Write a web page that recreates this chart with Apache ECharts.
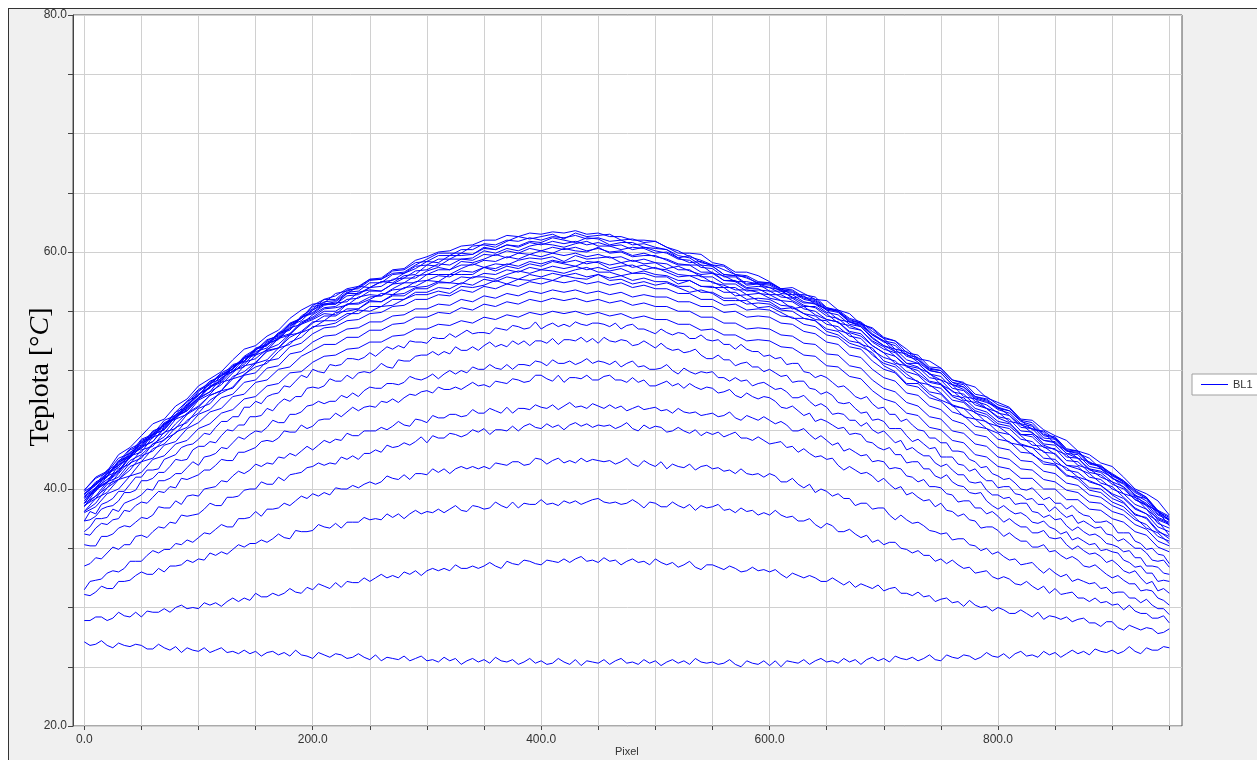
<!DOCTYPE html>
<html>
<head>
<meta charset="utf-8">
<script src="https://cdn.jsdelivr.net/npm/echarts@6/dist/echarts.min.js"></script>
<style>
html,body{margin:0;padding:0;background:#fff;width:1257px;height:760px;overflow:hidden;}
#frame{position:absolute;left:8px;top:8px;width:1300px;height:800px;background:#f0f0f0;border-left:1px solid #333;border-top:1px solid #333;}
#chart{position:absolute;left:0;top:0;width:1257px;height:760px;}
</style>
</head>
<body>
<div id="frame"></div>
<div id="chart"></div>
<script>
// Pixel positions (x) of the samples: fine grid for the lower curves, coarser for the rest
const PIXELS5 = [0,5,10,15,20,25,30,35,40,45,50,55,60,65,70,75,80,85,90,95,
100,105,110,115,120,125,130,135,140,145,150,155,160,165,170,175,180,185,190,195,
200,205,210,215,220,225,230,235,240,245,250,255,260,265,270,275,280,285,290,295,
300,305,310,315,320,325,330,335,340,345,350,355,360,365,370,375,380,385,390,395,
400,405,410,415,420,425,430,435,440,445,450,455,460,465,470,475,480,485,490,495,
500,505,510,515,520,525,530,535,540,545,550,555,560,565,570,575,580,585,590,595,
600,605,610,615,620,625,630,635,640,645,650,655,660,665,670,675,680,685,690,695,
700,705,710,715,720,725,730,735,740,745,750,755,760,765,770,775,780,785,790,795,
800,805,810,815,820,825,830,835,840,845,850,855,860,865,870,875,880,885,890,895,
900,905,910,915,920,925,930,935,940,945,950];
const PIXELS = [0,10,20,30,40,50,60,70,80,90,100,110,120,130,140,150,160,170,180,190,200,210,220,230,240,250,260,270,280,290,300,310,320,330,340,350,360,370,380,390,400,410,420,430,440,450,460,470,480,490,500,510,520,530,540,550,560,570,580,590,600,610,620,630,640,650,660,670,680,690,700,710,720,730,740,750,760,770,780,790,800,810,820,830,840,850,860,870,880,890,900,910,920,930,940,950];
const X_LABELS = [0,200,400,600,800];
const Y_LABELS = [20,40,60,80];
const SERIES_NAME = 'BL1';

// lower curves (5 px sampling)
const t01 = [27.1,26.8,26.9,27.2,26.8,26.6,27.0,26.8,26.7,26.9,26.8,26.5,26.5,26.9,26.6,26.4,26.7,26.2,26.6,26.4,
26.3,26.6,26.2,26.4,26.6,26.2,26.3,26.1,26.4,26.1,26.3,25.9,26.2,26.3,26.0,26.2,25.9,26.4,26.0,25.9,
25.7,26.2,26.0,25.8,26.1,26.0,25.7,25.8,26.1,25.8,25.6,26.0,25.5,25.8,25.7,25.6,25.9,25.5,25.7,25.9,
25.5,25.6,25.4,25.8,25.5,25.7,25.2,25.5,25.7,25.4,25.6,25.3,25.8,25.5,25.4,25.6,25.2,25.4,25.7,25.3,
25.5,25.2,25.3,25.7,25.4,25.2,25.6,25.1,25.5,25.4,25.3,25.6,25.2,25.5,25.7,25.3,25.4,25.2,25.6,25.3,
25.5,25.1,25.4,25.6,25.3,25.5,25.2,25.7,25.4,25.3,25.4,25.2,25.3,25.6,25.2,25.0,25.5,25.3,25.2,25.5,
25.1,25.5,25.0,25.5,25.4,25.3,25.6,25.2,25.5,25.7,25.4,25.5,25.3,25.7,25.4,25.6,25.2,25.6,25.8,25.5,
25.7,25.4,25.9,25.7,25.6,25.8,25.5,25.7,26.0,25.6,25.5,26.0,25.8,25.7,26.0,25.9,25.6,25.8,26.2,25.9,
25.8,26.1,25.7,26.1,26.3,25.9,26.0,25.8,26.3,26.0,26.2,25.8,26.1,26.4,26.1,26.3,26.0,26.5,26.3,26.2,
26.4,26.1,26.3,26.7,26.3,26.1,26.6,26.4,26.4,26.7,26.6];
const t02 = [28.9,28.9,29.2,29.2,28.9,29.1,29.6,29.3,29.2,29.6,29.2,29.7,29.6,29.6,29.9,29.6,30.0,30.2,29.9,30.0,
29.9,30.4,30.2,30.4,30.1,30.5,30.8,30.5,30.8,30.6,31.2,30.9,30.9,31.2,31.0,31.2,31.6,31.3,31.2,31.7,
31.5,32.0,31.8,31.6,32.1,31.7,32.2,32.1,32.1,32.5,32.2,32.5,32.8,32.5,32.7,32.5,33.0,32.8,33.1,32.7,
33.1,33.3,33.1,33.3,33.1,33.6,33.3,33.3,33.5,33.3,33.5,33.8,33.5,33.3,33.9,33.7,33.6,34.0,33.9,33.7,
33.6,34.0,33.9,33.8,34.1,33.8,34.1,34.3,33.9,34.0,33.8,34.2,33.9,34.0,33.6,33.9,34.1,33.8,33.9,33.6,
34.1,33.8,33.6,33.8,33.4,33.6,33.9,33.4,33.2,33.6,33.6,33.4,33.2,33.5,33.3,33.0,33.1,33.4,33.1,33.2,
33.0,33.2,32.8,32.5,32.9,32.7,32.5,32.7,32.5,32.2,32.2,32.5,32.2,31.9,32.2,31.7,32.0,31.8,31.6,31.9,
31.4,31.6,31.7,31.2,31.2,31.0,31.3,30.9,31.0,30.5,30.7,30.8,30.4,30.5,30.1,30.6,30.2,30.0,30.1,29.7,
30.0,29.8,29.5,29.5,29.8,29.5,29.2,29.6,29.0,29.3,29.2,29.0,29.2,28.8,29.0,29.1,28.7,28.7,28.4,28.8,
28.8,28.3,28.1,28.5,28.3,28.1,28.3,28.2,27.8,27.9,28.2];
const t03 = [31.1,31.0,31.3,31.8,31.6,31.6,32.2,32.2,32.3,32.7,33.0,32.8,32.8,33.3,33.0,33.5,33.5,33.6,34.0,33.8,
34.1,34.0,34.6,34.4,34.7,34.5,34.9,35.3,35.1,35.4,35.4,35.7,35.5,35.8,36.2,35.9,35.8,36.5,36.4,36.4,
36.5,37.0,36.8,36.7,37.1,36.7,37.2,37.2,37.2,37.6,37.4,37.5,37.4,37.9,37.6,37.9,37.5,37.9,38.2,37.9,
38.1,38.0,38.3,38.0,38.3,38.6,38.2,38.1,38.6,38.5,38.3,38.4,38.9,38.6,38.4,38.9,38.4,38.8,38.7,38.7,
39.1,38.7,38.8,38.6,39.0,38.8,39.0,38.7,38.9,39.1,39.2,38.9,38.8,38.9,38.7,38.8,39.1,38.8,38.4,38.9,
38.8,38.5,38.5,38.9,38.6,38.4,38.7,38.2,38.6,38.4,38.5,38.7,38.2,38.3,38.0,38.4,38.1,38.2,37.8,38.0,
37.8,38.2,37.8,37.6,37.7,37.3,37.3,37.5,37.0,36.7,37.1,36.9,36.4,36.4,36.6,36.2,35.9,36.1,35.5,35.7,
35.3,35.5,35.5,35.0,34.9,34.6,34.8,34.4,34.4,33.9,34.1,33.7,34.0,33.6,33.3,33.4,32.9,33.0,33.1,32.6,
32.4,32.6,32.4,32.0,31.9,32.2,31.8,31.5,31.8,31.2,31.6,31.1,31.2,31.3,30.8,30.8,30.5,30.8,30.4,30.5,
30.2,30.3,29.8,30.2,29.7,29.5,29.5,29.1,29.1,29.3,28.7];
const t04 = [31.5,32.2,32.3,32.4,32.9,33.1,33.0,33.3,33.9,33.9,33.9,34.4,34.8,34.6,34.9,34.9,35.4,35.3,35.7,35.5,
35.9,36.3,36.2,36.6,37.0,36.8,36.8,37.5,37.5,37.6,38.1,37.7,38.3,38.3,38.4,38.8,38.6,39.0,39.4,39.2,
39.6,39.4,39.7,39.5,40.1,40.0,40.0,40.3,40.1,40.4,40.6,40.4,40.6,41.1,40.9,40.8,41.2,40.8,41.3,41.3,
41.2,41.7,41.4,41.7,41.3,41.7,41.9,41.7,41.9,41.7,41.9,41.7,42.2,42.1,42.0,42.3,42.3,42.0,42.1,42.6,
42.5,42.1,42.4,42.6,42.2,42.4,42.2,42.6,42.3,42.5,42.4,42.3,42.4,42.1,42.3,42.6,42.1,41.9,42.4,42.1,
41.9,42.3,41.7,42.1,41.9,41.8,42.1,41.6,41.9,42.0,41.7,41.8,41.5,41.6,41.3,41.7,41.3,41.2,41.3,41.0,
41.3,41.1,40.6,40.6,40.9,40.4,40.1,40.4,39.7,40.0,39.8,39.4,39.6,39.2,39.2,38.6,38.8,38.8,38.3,38.4,
38.4,37.8,37.4,37.8,37.4,37.1,37.2,36.9,36.5,36.4,36.2,36.3,35.7,35.8,35.8,35.3,35.2,34.8,35.0,34.5,
34.7,34.3,34.0,34.1,33.6,33.7,33.8,33.3,32.9,33.3,32.9,32.6,32.8,32.2,32.4,32.2,32.0,32.1,31.6,31.7,
31.2,31.3,31.3,30.8,30.8,30.4,30.7,30.2,29.9,29.9,29.4];
const t05 = [33.5,33.7,34.2,34.1,34.6,35.1,34.9,35.3,35.3,36.0,36.1,35.9,36.4,36.8,36.7,37.2,37.1,37.8,37.7,37.8,
37.9,38.3,38.8,38.6,38.6,39.3,39.3,39.4,39.9,40.0,40.0,40.6,40.4,40.4,41.0,40.7,41.2,41.3,41.4,41.8,
41.9,42.2,42.0,42.2,42.1,42.7,42.5,42.8,42.5,43.0,43.0,43.3,43.1,43.7,43.5,43.6,43.9,43.7,44.0,44.4,
43.9,44.5,44.3,44.3,44.7,44.6,44.4,44.6,45.0,44.8,45.1,44.6,45.0,45.0,44.9,45.3,44.9,45.3,45.5,45.2,
45.1,45.5,45.2,45.4,45.0,45.4,45.6,45.3,45.5,45.2,45.4,45.3,45.4,45.1,45.3,45.6,45.1,44.9,45.4,45.1,
45.3,45.2,44.8,44.9,45.2,44.9,44.7,45.0,44.5,44.8,44.6,44.8,44.4,44.6,44.8,44.3,44.3,44.1,44.4,44.1,
43.8,43.9,44.0,43.5,43.6,43.1,43.4,43.0,42.7,42.8,42.5,42.6,42.0,41.6,41.9,41.6,41.3,41.4,41.1,40.6,
40.9,40.4,40.0,40.2,39.5,39.7,39.3,39.0,39.1,38.5,38.8,38.2,38.1,37.7,37.9,37.4,37.3,36.7,36.8,36.8,
36.5,36.0,36.3,35.9,35.6,35.6,35.1,35.1,35.3,34.7,34.8,34.4,34.1,34.3,34.0,33.5,33.4,33.6,33.2,32.8,
32.5,32.7,32.3,32.0,32.0,31.4,31.5,31.4,30.8,30.6,30.2];
const t06 = [35.3,35.2,35.2,36.0,36.0,36.2,36.7,36.9,36.8,37.2,37.6,37.5,37.8,38.5,38.4,38.4,39.0,38.7,39.4,39.5,
39.4,40.0,40.1,40.2,40.7,40.6,41.1,41.5,41.3,41.6,42.1,41.9,42.2,42.1,42.7,42.6,43.0,42.8,43.2,43.6,
43.3,43.7,44.1,43.9,44.2,44.1,44.7,44.5,44.5,44.9,44.9,44.9,45.2,45.0,45.3,45.7,45.4,45.3,45.9,45.8,
45.6,46.2,46.0,46.0,46.3,46.3,46.1,46.2,46.7,46.4,46.4,46.8,46.6,46.4,46.9,46.4,46.8,46.8,46.7,47.1,
46.9,46.8,47.1,46.7,47.0,47.3,46.9,47.0,46.8,47.2,47.0,46.8,47.1,46.8,47.0,46.6,46.8,47.0,46.7,46.8,
46.9,46.6,46.7,46.4,46.8,46.5,46.4,46.5,46.2,46.3,46.4,46.1,46.2,46.5,46.0,45.8,46.2,46.0,45.8,46.1,
45.8,45.5,45.7,45.4,44.9,44.9,45.1,44.6,44.2,44.5,44.1,43.7,43.9,43.2,43.4,43.1,42.8,42.9,42.3,42.4,
42.3,41.7,41.8,41.7,41.1,41.0,40.6,40.8,40.2,40.2,40.1,39.6,39.5,38.9,39.0,39.0,38.4,38.4,37.9,38.1,
37.7,37.2,37.5,37.1,36.8,36.8,36.3,36.3,36.5,35.9,35.8,35.9,35.3,34.9,35.2,34.8,34.5,34.6,34.3,33.8,
34.0,33.6,33.1,32.9,33.1,32.5,32.0,32.2,31.4,31.6,31.2];
const t07 = [36.2,36.1,36.7,37.1,37.0,37.4,37.5,38.2,38.1,38.6,38.9,38.8,39.3,39.8,39.7,40.2,40.1,40.9,40.8,41.0,
41.2,41.6,41.6,42.0,42.5,42.4,42.4,43.1,43.1,43.3,43.5,44.0,44.1,44.0,44.3,44.9,44.8,44.8,45.4,45.1,
45.3,45.8,45.9,45.9,46.4,46.1,46.5,46.9,46.6,46.9,47.0,46.9,47.4,47.3,47.6,47.3,47.7,48.0,47.9,48.2,
48.3,48.1,48.6,48.4,48.4,48.6,48.4,48.7,49.0,48.7,48.8,48.6,49.1,49.0,48.9,49.3,49.2,49.0,49.1,49.6,
49.6,49.3,49.1,49.6,49.0,49.4,49.4,49.3,49.6,49.2,49.2,49.5,49.6,49.2,49.2,49.0,49.4,49.0,49.2,48.7,
48.7,48.9,49.1,48.7,48.9,48.5,48.9,48.6,48.4,48.6,48.5,48.1,48.2,48.4,47.9,47.7,48.1,47.8,47.6,47.8,
47.7,47.4,46.9,46.8,47.0,46.6,46.2,46.4,45.7,45.9,45.7,45.4,45.1,45.2,44.6,44.7,44.6,44.0,43.9,43.5,
43.3,43.5,42.9,42.9,42.2,42.3,42.3,41.7,41.7,41.1,40.9,41.2,40.6,40.3,40.2,39.7,39.6,39.7,39.0,38.6,
38.3,38.6,38.2,37.9,38.0,37.7,37.2,37.1,37.3,36.8,36.6,36.2,36.4,35.7,35.9,35.6,35.3,35.4,34.8,34.9,
34.7,34.6,34.0,33.8,33.4,33.5,32.9,32.9,32.2,32.3,32.2];
const t08 = [36.4,36.8,37.5,37.5,37.6,38.3,38.1,38.8,39.0,39.2,39.5,40.0,39.9,40.7,40.7,40.9,41.3,41.3,41.8,42.3,
42.0,42.7,42.8,43.0,43.5,43.4,43.9,44.4,44.2,44.6,44.9,44.8,45.2,45.8,45.6,45.6,46.3,46.3,46.5,47.0,
47.1,47.4,47.2,47.4,47.4,47.9,47.7,48.1,47.8,48.3,48.6,48.5,48.5,48.9,48.9,48.8,49.0,49.5,49.3,49.2,
49.4,49.7,49.3,49.7,50.0,49.7,50.0,49.8,50.3,50.1,50.1,50.5,50.2,50.1,50.5,50.1,50.5,50.5,50.4,50.8,
50.7,50.4,50.9,50.6,50.6,50.8,50.5,50.7,51.0,50.6,50.8,50.7,50.5,50.8,50.3,50.6,50.8,50.3,50.4,50.1,
50.1,50.2,50.5,50.0,49.7,50.2,49.9,49.7,49.9,49.8,49.9,49.4,49.4,49.1,49.4,49.1,49.2,48.7,48.9,49.0,
48.7,48.4,48.5,48.2,47.7,47.7,47.9,47.4,47.0,47.2,46.9,46.3,46.4,46.3,45.8,45.8,45.3,45.6,45.0,44.7,
44.9,44.4,43.9,44.1,43.3,43.5,43.1,42.8,42.8,42.2,41.9,42.1,41.6,41.2,41.2,40.6,40.5,40.6,39.9,39.5,
39.5,39.2,39.3,38.7,38.8,38.8,38.1,38.0,37.6,37.8,37.4,37.5,36.9,36.5,36.8,36.4,36.1,36.2,35.9,35.4,
35.3,35.1,34.7,34.8,34.2,34.2,33.5,33.5,33.4,32.9,32.8];
const t09 = [37.3,37.4,37.7,38.3,38.5,38.6,39.0,39.7,39.7,39.9,40.7,40.7,40.9,41.4,41.4,41.9,42.5,42.4,42.5,43.3,
43.6,43.6,44.0,43.9,44.5,45.0,44.9,45.4,45.4,46.1,46.1,46.2,46.8,46.6,47.2,47.6,47.4,47.8,47.8,48.5,
48.6,48.5,48.7,49.3,49.1,49.1,49.6,49.3,49.8,49.9,49.8,50.1,50.6,50.3,50.2,50.9,50.8,50.8,51.2,51.3,
51.3,51.6,51.3,51.6,51.4,52.0,51.7,51.7,52.0,51.7,52.1,52.4,52.0,52.2,52.0,52.5,52.2,52.5,52.1,52.5,
52.5,52.3,52.7,52.2,52.6,52.6,52.5,52.8,52.4,52.7,52.3,52.8,52.5,52.4,52.6,52.5,52.1,52.2,52.5,52.2,
51.9,52.3,51.9,51.7,51.8,51.5,51.6,51.8,51.3,51.0,51.0,51.3,50.9,50.9,50.4,50.6,50.7,50.3,50.3,49.9,
50.1,49.8,49.5,49.6,49.0,49.1,49.1,48.5,48.4,48.0,48.2,47.9,47.3,47.2,47.3,46.8,46.4,46.5,45.8,45.9,
45.7,45.1,45.1,45.1,44.5,44.0,44.2,43.8,43.4,43.5,42.7,42.7,42.7,42.1,42.0,41.5,41.7,41.1,40.7,40.7,
40.1,40.2,40.2,39.6,39.5,39.1,39.2,38.7,38.7,38.1,38.5,38.0,37.6,37.8,37.1,37.3,37.0,36.7,36.8,36.2,
36.1,35.6,35.8,35.4,35.0,35.0,34.6,34.0,33.9,34.0,33.4];
const t10 = [37.3,38.1,37.9,38.7,38.9,39.2,39.8,39.8,40.4,41.0,41.0,41.6,41.6,41.7,42.5,42.7,42.9,43.5,43.7,43.8,
44.2,44.7,44.6,45.2,45.7,45.7,46.1,46.1,46.9,46.9,47.4,47.2,47.8,48.0,48.1,48.7,48.6,49.1,49.6,49.4,
50.1,49.9,49.8,50.5,50.4,50.5,51.0,51.0,50.9,51.1,51.5,51.2,51.6,52.0,51.8,52.1,51.9,52.5,52.4,52.4,
52.3,52.8,52.7,52.7,53.1,52.8,53.1,53.4,53.1,53.2,53.2,53.1,53.6,53.5,53.4,53.8,53.7,53.5,53.6,54.1,
53.5,53.8,54.0,53.7,53.9,53.7,54.1,53.9,53.8,54.0,54.0,53.9,53.7,54.0,53.5,53.8,53.9,53.5,53.5,53.3,
53.1,53.5,53.2,53.0,53.2,53.1,52.7,52.7,53.0,52.6,52.5,52.6,52.2,52.2,51.8,52.2,51.8,51.6,51.6,51.2,
51.3,51.0,51.1,50.5,50.6,50.6,49.9,49.8,49.4,49.6,49.4,49.0,48.6,48.7,48.3,47.8,47.6,47.8,47.2,46.8,
46.9,46.3,46.3,45.7,45.9,45.4,45.0,44.9,44.3,44.3,43.9,43.9,43.2,43.2,43.1,42.5,42.3,41.8,41.9,41.3,
41.1,40.8,40.9,40.5,40.0,39.9,40.1,39.6,39.1,39.3,38.8,38.8,38.3,38.6,38.1,37.8,37.7,37.2,37.2,37.3,
37.0,36.3,36.3,36.3,35.6,35.4,34.9,35.0,34.5,34.4,33.7];

// middle and upper curves (10 px sampling)
const t11 = [38.0,38.5,39.6,40.0,41.1,41.4,42.5,42.8,43.8,44.1,
45.1,45.5,46.4,46.7,47.6,47.8,48.7,48.9,49.8,49.9,
50.7,51.2,51.3,51.8,51.9,52.4,52.4,52.9,53.0,53.5,
53.5,53.9,53.8,54.2,54.0,54.5,54.3,54.7,54.5,54.9,
54.7,55.0,54.8,55.0,54.7,54.9,54.6,54.8,54.4,54.6,
54.3,54.3,53.9,53.9,53.4,53.5,53.0,53.0,52.5,52.6,
52.5,52.0,51.9,51.3,51.2,50.4,50.3,49.5,49.3,48.3,
47.6,47.3,46.4,46.2,45.2,45.0,44.1,43.9,42.9,42.7,
41.9,41.7,40.9,40.9,40.0,40.0,39.1,39.1,38.3,38.2,
37.5,37.2,36.4,36.1,35.1,34.7];
const t12 = [38.1,39.2,39.7,40.8,41.1,42.3,42.6,43.7,44.0,45.1,
45.6,46.5,46.8,47.8,48.0,49.0,49.2,50.1,50.3,51.2,
51.7,52.2,52.2,52.8,52.8,53.4,53.4,53.9,54.0,54.5,
54.5,54.9,54.8,55.3,55.1,55.6,55.4,55.8,55.6,56.0,
55.8,56.1,55.9,56.1,55.8,56.0,55.7,55.9,55.5,55.7,
55.4,55.4,55.0,55.0,54.5,54.5,54.0,54.0,53.5,53.6,
53.5,53.0,52.9,52.3,52.2,51.4,51.3,50.4,50.2,49.2,
48.5,48.2,47.3,47.0,46.1,45.9,44.9,44.7,43.8,43.6,
42.7,42.5,41.7,41.6,40.8,40.6,39.9,39.7,38.9,38.8,
38.1,37.8,37.0,36.6,35.6,35.2];
const t13 = [38.6,39.2,40.4,40.8,41.9,42.3,43.4,43.8,44.8,45.2,
46.3,46.7,47.7,48.0,49.0,49.2,50.2,50.4,51.4,51.6,
52.4,52.9,53.0,53.5,53.6,54.1,54.1,54.6,54.7,55.2,
55.2,55.6,55.5,56.0,55.8,56.3,56.1,56.5,56.3,56.7,
56.5,56.8,56.6,56.8,56.5,56.7,56.4,56.6,56.2,56.4,
56.2,56.2,55.8,55.8,55.4,55.4,54.9,55.0,54.5,54.6,
54.5,54.0,53.9,53.3,53.1,52.4,52.2,51.3,51.1,50.1,
49.4,49.1,48.1,47.9,47.0,46.7,45.8,45.5,44.6,44.4,
43.5,43.3,42.4,42.3,41.5,41.3,40.5,40.3,39.5,39.3,
38.6,38.2,37.4,37.0,36.0,35.6];
const t14 = [38.8,39.4,40.6,41.0,42.2,42.6,43.8,44.1,45.2,45.6,
46.8,47.2,48.3,48.5,49.6,49.8,50.8,51.0,52.0,52.3,
53.1,53.6,53.7,54.2,54.3,54.8,54.9,55.4,55.5,56.0,
56.0,56.4,56.3,56.8,56.6,57.1,56.9,57.3,57.1,57.5,
57.3,57.6,57.4,57.6,57.3,57.5,57.2,57.4,57.0,57.2,
56.9,56.9,56.5,56.5,56.0,56.0,55.5,55.6,55.1,55.2,
55.1,54.6,54.5,53.9,53.7,53.0,52.8,52.0,51.8,50.8,
50.1,49.8,48.8,48.6,47.7,47.4,46.5,46.2,45.3,45.1,
44.2,44.0,43.1,43.0,42.1,42.0,41.1,41.0,40.1,40.0,
39.2,38.8,37.9,37.5,36.4,36.0];
const t15 = [38.8,40.0,40.5,41.7,42.1,43.3,43.6,44.8,45.1,46.3,
46.9,47.9,48.3,49.3,49.6,50.6,50.9,51.9,52.2,53.2,
53.6,54.2,54.2,54.8,54.8,55.4,55.4,56.0,56.0,56.6,
56.6,57.0,56.9,57.4,57.2,57.7,57.5,57.9,57.7,58.1,
57.9,58.2,58.0,58.2,57.9,58.1,57.8,58.0,57.6,57.8,
57.5,57.5,57.1,57.1,56.6,56.6,56.1,56.1,55.6,55.7,
55.6,55.1,55.0,54.4,54.2,53.5,53.3,52.5,52.3,51.3,
50.6,50.3,49.4,49.1,48.2,48.0,47.0,46.8,45.9,45.7,
44.8,44.6,43.7,43.5,42.6,42.5,41.6,41.4,40.6,40.3,
39.6,39.2,38.3,37.9,36.8,36.4];
const t16 = [39.2,39.8,41.1,41.5,42.8,43.1,44.4,44.7,45.9,46.3,
47.5,48.0,49.0,49.3,50.4,50.6,51.7,51.9,53.0,53.2,
54.0,54.6,54.6,55.2,55.2,55.8,55.8,56.4,56.5,57.0,
57.1,57.5,57.4,57.9,57.8,58.2,58.1,58.5,58.3,58.7,
58.5,58.8,58.6,58.8,58.5,58.7,58.4,58.6,58.2,58.4,
58.1,58.0,57.6,57.6,57.1,57.1,56.6,56.6,56.0,56.1,
56.0,55.5,55.4,54.8,54.6,53.9,53.7,52.9,52.7,51.7,
51.1,50.8,49.9,49.6,48.7,48.5,47.5,47.3,46.4,46.1,
45.3,45.1,44.2,44.0,43.1,43.0,42.0,41.9,41.0,40.8,
40.0,39.6,38.7,38.3,37.1,36.7];
const t17 = [39.4,40.1,41.3,41.8,43.0,43.4,44.6,45.0,46.1,46.6,
47.6,48.6,49.0,50.0,50.3,51.3,51.7,52.7,53.0,54.0,
54.4,55.0,55.0,55.6,55.7,56.2,56.3,56.8,56.9,57.5,
57.6,58.0,57.9,58.4,58.3,58.7,58.6,59.0,58.8,59.2,
59.0,59.3,59.1,59.3,59.0,59.2,58.9,59.1,58.7,58.9,
58.6,58.5,58.1,58.0,57.6,57.5,57.0,57.0,56.4,56.5,
56.4,55.9,55.8,55.2,55.0,54.3,54.1,53.3,53.1,52.1,
51.5,51.2,50.3,50.0,49.1,48.9,47.9,47.7,46.8,46.5,
45.7,45.5,44.6,44.4,43.5,43.4,42.4,42.3,41.4,41.2,
40.4,40.0,39.1,38.6,37.4,37.0];
const t18 = [39.3,40.5,41.0,42.3,42.7,43.9,44.3,45.5,45.9,47.0,
48.0,48.5,49.6,49.9,51.0,51.3,52.3,52.6,53.6,53.9,
54.7,55.3,55.4,56.0,56.1,56.7,56.7,57.3,57.4,58.0,
58.1,58.5,58.5,58.9,58.9,59.3,59.2,59.6,59.4,59.8,
59.6,59.9,59.7,59.9,59.6,59.8,59.5,59.6,59.2,59.4,
59.1,59.0,58.5,58.5,57.9,57.9,57.3,57.3,56.7,56.8,
56.7,56.2,56.1,55.5,55.3,54.6,54.4,53.6,53.4,52.4,
51.8,51.5,50.6,50.3,49.4,49.2,48.2,48.0,47.1,46.8,
46.1,45.9,44.9,44.8,43.8,43.7,42.7,42.6,41.6,41.4,
40.6,40.2,39.3,38.8,37.6,37.2];
const t19 = [39.6,40.3,41.4,42.0,43.1,43.6,44.7,45.2,46.3,46.8,
47.9,48.9,49.3,50.4,50.7,51.8,52.1,53.1,53.4,54.5,
54.9,55.6,55.6,56.3,56.4,57.0,57.1,57.7,57.8,58.4,
58.5,59.0,58.9,59.4,59.3,59.8,59.7,60.1,59.9,60.3,
60.1,60.4,60.2,60.4,60.1,60.3,60.0,60.1,59.7,59.9,
59.6,59.4,59.0,58.9,58.3,58.3,57.6,57.6,57.0,57.1,
57.0,56.5,56.4,55.8,55.6,54.9,54.7,53.9,53.7,52.7,
52.1,51.8,50.9,50.6,49.7,49.5,48.5,48.3,47.4,47.1,
46.4,46.2,45.2,45.1,44.1,44.0,43.0,42.9,41.9,41.7,
40.9,40.4,39.5,39.0,37.8,37.4];
const t20 = [39.5,40.6,41.1,42.4,42.8,44.0,44.4,45.6,46.0,47.2,
48.3,48.8,49.7,50.1,51.1,51.4,52.4,52.8,53.8,54.2,
55.1,55.8,55.9,56.6,56.7,57.4,57.4,58.1,58.2,58.8,
58.9,59.4,59.4,59.9,59.8,60.3,60.2,60.6,60.4,60.8,
60.6,60.9,60.7,60.9,60.6,60.8,60.5,60.6,60.2,60.4,
60.1,59.9,59.4,59.3,58.7,58.6,57.9,57.9,57.2,57.3,
57.2,56.7,56.6,56.0,55.8,55.1,54.9,54.1,53.9,53.0,
52.4,52.1,51.2,50.9,50.0,49.8,48.8,48.6,47.7,47.4,
46.7,46.4,45.5,45.3,44.3,44.2,43.2,43.1,42.1,41.9,
41.1,40.6,39.7,39.2,37.9,37.5];
const t21 = [39.8,40.4,41.6,42.1,43.3,43.7,44.9,45.3,46.5,46.9,
48.2,49.1,49.5,50.5,50.8,51.9,52.2,53.2,53.5,54.6,
55.2,56.0,56.0,56.8,56.9,57.6,57.7,58.4,58.5,59.1,
59.2,59.7,59.7,60.2,60.2,60.7,60.6,61.0,60.9,61.2,
61.0,61.3,61.2,61.4,61.1,61.2,60.9,61.0,60.6,60.7,
60.4,60.2,59.7,59.5,58.9,58.8,58.1,58.0,57.3,57.4,
57.3,56.8,56.7,56.1,55.9,55.2,55.0,54.2,54.0,53.1,
52.5,52.3,51.3,51.1,50.1,50.0,49.0,48.8,47.8,47.6,
46.9,46.6,45.7,45.4,44.5,44.3,43.3,43.2,42.2,42.0,
41.2,40.7,39.8,39.3,38.1,37.6];
const t22 = [39.9,40.9,41.4,42.6,43.0,44.2,44.6,45.8,46.2,47.4,
48.4,48.9,49.8,50.3,51.1,51.7,52.5,53.0,53.9,54.4,
55.5,56.0,56.3,56.9,57.1,57.7,57.8,58.5,58.6,59.3,
59.6,60.0,60.1,60.5,60.6,61.0,61.0,61.4,61.3,61.6,
61.5,61.7,61.6,61.8,61.5,61.6,61.3,61.3,61.0,61.0,
60.9,60.4,60.1,59.6,59.3,58.9,58.5,58.1,57.8,57.4,
57.4,56.9,56.8,56.2,56.0,55.3,55.1,54.4,54.1,53.3,
52.7,52.5,51.5,51.3,50.3,50.2,49.2,49.0,48.0,47.8,
47.1,46.8,45.8,45.6,44.6,44.4,43.4,43.2,42.2,41.9,
41.3,40.7,39.9,39.3,38.2,37.7];
const t23 = [38.1,38.8,40.1,40.8,41.6,42.8,43.2,44.2,44.7,45.8,
46.4,47.5,48.1,48.6,49.7,50.3,50.6,51.6,52.4,52.8,
53.7,53.8,54.0,54.6,55.1,55.0,55.4,55.5,56.0,56.4,
56.4,56.7,56.5,57.1,57.0,57.2,57.6,57.3,57.7,57.6,
57.8,57.6,58.0,57.8,57.7,58.1,57.6,57.7,57.3,57.5,
57.2,57.4,57.0,56.6,56.8,56.5,55.9,55.9,55.9,55.3,
55.4,54.9,54.4,54.4,54.2,53.3,53.0,52.3,52.0,51.5,
50.4,49.9,48.9,48.9,48.0,47.5,47.1,46.1,45.9,45.1,
44.7,43.9,43.7,42.9,42.3,42.1,41.2,40.8,39.9,39.7,
38.9,38.5,37.6,36.7,36.3,35.4];
const t24 = [38.6,39.4,40.1,41.3,42.4,42.9,43.8,44.4,45.5,46.4,
47.0,47.9,48.3,49.5,49.9,50.7,51.6,51.9,52.8,53.3,
54.1,54.2,54.9,55.0,55.2,55.9,55.8,56.3,56.3,56.9,
56.9,57.4,57.4,57.3,57.9,57.9,57.7,58.1,58.4,58.2,
58.5,58.4,58.2,58.5,58.7,58.3,58.3,58.0,58.2,58.2,
57.9,57.9,57.3,57.6,57.1,57.0,57.0,56.3,56.4,55.9,
55.8,55.2,55.3,54.8,54.3,54.2,53.4,53.1,52.2,51.9,
50.8,50.5,49.7,49.0,48.8,48.1,47.1,46.8,46.5,45.6,
45.3,44.6,43.8,43.5,43.2,42.2,41.8,41.0,40.7,40.3,
39.5,38.9,37.8,37.6,36.5,35.8];
const t25 = [38.8,40.1,40.8,41.5,42.8,43.6,44.0,45.1,46.1,46.6,
47.6,48.2,48.8,49.8,50.7,51.0,51.8,52.2,53.1,53.9,
54.3,54.8,54.7,55.6,55.6,56.0,56.5,56.4,57.0,57.1,
57.6,57.5,58.1,58.1,58.1,58.7,58.4,58.8,58.6,59.0,
58.8,59.2,59.0,58.8,59.2,59.1,58.6,58.8,58.9,58.5,
58.7,58.3,57.9,58.0,58.0,57.4,57.2,56.8,56.8,56.6,
56.1,55.9,55.2,55.4,54.7,54.3,54.1,53.2,52.9,52.1,
51.5,50.6,50.4,49.7,49.0,48.8,47.8,47.4,46.6,46.3,
45.5,45.3,44.5,43.7,43.6,42.9,42.0,41.7,41.3,40.5,
40.2,39.3,38.4,37.9,37.3,36.1];
const t26 = [39.0,40.1,40.6,42.0,42.6,43.6,44.6,45.0,46.1,46.7,
47.7,48.2,49.4,49.9,50.5,51.6,51.9,52.8,53.1,54.1,
54.5,55.2,55.3,55.5,56.2,56.4,56.3,56.9,57.4,57.4,
58.1,58.1,58.1,58.6,59.0,58.7,59.0,58.9,59.3,59.5,
59.4,59.6,59.2,59.7,59.4,59.5,59.6,59.1,59.3,59.0,
59.1,58.6,58.8,58.4,58.1,58.2,57.6,57.5,56.9,56.9,
56.4,56.4,55.9,55.4,55.4,54.8,54.0,53.8,53.4,52.5,
52.0,51.2,50.4,50.2,49.8,48.8,48.3,47.5,47.3,46.8,
46.0,45.6,44.6,44.6,43.7,43.3,42.9,42.0,41.7,41.0,
40.6,39.6,39.3,38.3,37.5,37.1];
const t27 = [39.3,40.0,41.3,42.0,42.8,44.1,44.5,45.5,46.0,47.1,
48.0,48.6,49.2,50.2,51.1,51.4,52.2,52.7,53.7,54.5,
54.8,55.5,55.7,55.8,56.6,56.8,56.7,57.3,57.8,57.8,
58.4,58.7,58.5,59.2,59.1,59.4,59.8,59.5,59.9,59.8,
60.1,59.9,60.3,60.1,60.0,60.4,59.9,60.0,59.6,59.7,
59.7,59.3,58.9,58.9,58.9,58.2,58.0,57.5,57.5,57.3,
56.7,56.7,56.2,55.7,55.7,55.1,54.3,54.1,53.7,52.8,
52.1,51.6,50.6,50.6,49.7,49.2,48.8,47.8,47.6,46.8,
46.5,45.7,45.5,44.7,44.1,43.9,43.0,42.6,41.7,41.5,
41.0,40.1,39.1,38.7,38.1,36.9];
const t28 = [39.6,40.4,41.1,42.3,43.4,43.9,44.8,45.4,46.5,47.4,
47.9,49.0,49.6,50.1,51.2,51.8,52.1,53.1,54.0,54.4,
55.1,55.6,55.6,56.5,56.5,57.0,57.5,57.4,58.0,58.1,
58.9,58.8,59.4,59.4,59.5,60.1,59.9,60.3,60.1,60.5,
60.7,60.6,60.4,60.7,60.9,60.5,60.5,60.2,60.4,60.3,
59.9,60.0,59.5,59.1,59.2,58.8,58.1,58.0,57.9,57.3,
57.0,56.8,56.1,56.3,55.6,55.2,55.0,54.1,53.8,53.0,
52.5,51.6,51.4,50.7,50.0,49.8,48.8,48.4,47.6,47.3,
46.9,46.2,45.4,45.1,44.8,43.8,43.3,42.6,42.3,41.8,
40.9,40.5,39.5,38.6,38.2,37.3];
const t29 = [38.5,39.9,40.6,41.4,42.7,43.5,44.0,45.2,46.2,46.8,
47.7,48.7,49.1,50.4,50.8,51.7,52.6,52.9,53.9,54.4,
55.4,55.6,55.8,56.5,57.1,57.0,57.5,57.6,58.2,58.6,
59.2,59.1,59.7,59.7,59.8,60.4,60.2,60.6,60.5,60.9,
60.8,61.2,61.0,60.8,61.2,61.1,60.6,60.8,60.8,60.4,
60.3,60.2,59.5,59.7,59.1,58.9,58.8,58.1,58.0,57.5,
57.4,56.9,56.4,56.4,56.2,55.3,55.0,54.3,54.0,53.5,
52.7,51.8,51.6,50.9,50.2,50.0,49.0,48.6,47.8,47.5,
46.8,46.6,45.8,45.0,44.9,44.2,43.2,43.0,42.6,41.7,
41.2,40.6,39.4,39.2,38.1,37.4];
const t30 = [39.9,41.0,41.5,42.9,43.5,44.5,45.5,45.9,47.0,47.6,
48.7,49.3,49.9,50.9,51.8,52.1,52.9,53.4,54.4,55.1,
55.6,55.7,56.5,56.7,57.0,57.7,57.7,58.2,58.3,58.9,
59.4,59.9,59.9,59.9,60.5,60.6,60.4,60.9,61.3,61.1,
61.3,61.5,61.1,61.6,61.3,61.4,61.5,61.0,61.1,60.8,
60.9,60.4,59.9,59.9,59.8,59.1,58.9,58.3,58.3,58.0,
57.5,56.9,57.0,56.5,56.0,55.9,55.1,54.8,53.9,53.6,
52.8,52.5,51.8,51.0,50.8,50.2,49.2,48.9,48.6,47.7,
47.3,46.9,45.9,45.8,45.0,44.5,44.1,43.2,42.9,42.2,
41.9,41.0,40.0,39.6,39.0,37.8];

const CURVES_FINE = [t01,t02,t03,t04,t05,t06,t07,t08,t09,t10];
const CURVES = [t11,t12,t13,t14,t15,t16,t17,t18,t19,t20,t21,t22,t23,t24,t25,t26,t27,t28,t29,t30];

const chart = echarts.init(document.getElementById('chart'), null, {renderer:'canvas'});
const LABEL_FONT = 'Arial, "Liberation Sans", sans-serif';

function mkSeries(arr, xs) {
  return {
    type: 'line',
    name: SERIES_NAME,
    xAxisIndex: 0,
    yAxisIndex: 0,
    data: arr.map((v, i) => [xs[i], v]),
    showSymbol: false,
    symbol: 'none',
    color: '#0000ff',
    lineStyle: {color: '#0000ff', width: 1},
    emphasis: {disabled: true},
    silent: true
  };
}
const series = CURVES_FINE.map(a => mkSeries(a, PIXELS5)).concat(CURVES.map(a => mkSeries(a, PIXELS)));

chart.setOption({
  animation: false,
  backgroundColor: 'transparent',
  grid: [
    {left: 84.3, width: 1085, top: 15, bottom: 34, show: false, outerBoundsMode: 'none', containLabel: false},
    {left: 73, right: 75, top: 15, bottom: 34, show: true, backgroundColor: '#ffffff', borderColor: '#555', borderWidth: 1, outerBoundsMode: 'none', containLabel: false}
  ],
  xAxis: [
    {
      gridIndex: 0, type: 'value', min: 0, max: 950, interval: 50,
      name: 'Pixel', nameLocation: 'middle', nameGap: 20, nameMoveOverlap: false,
      nameTextStyle: {fontFamily: LABEL_FONT, fontSize: 11, color: '#333'},
      axisLine: {show: false},
      axisTick: {show: true, inside: false, length: 4, lineStyle: {color: '#444'}},
      axisLabel: {
        fontFamily: LABEL_FONT, fontSize: 12, color: '#333', margin: 8,
        formatter: v => X_LABELS.indexOf(v) >= 0 ? v.toFixed(1) : ''
      },
      splitLine: {show: true, lineStyle: {color: '#d0d0d0', width: 1}}
    },
    {gridIndex: 1, type: 'value', min: 0, max: 1, show: false, splitLine: {show: false}}
  ],
  yAxis: [
    {gridIndex: 0, type: 'value', min: 20, max: 80, show: false, splitLine: {show: false}},
    {
      gridIndex: 1, type: 'value', min: 20, max: 80, interval: 5,
      axisLine: {show: true, lineStyle: {color: '#444'}},
      axisTick: {show: true, length: 5, lineStyle: {color: '#444'}},
      axisLabel: {
        fontFamily: LABEL_FONT, fontSize: 12, color: '#333', margin: 6,
        formatter: v => Y_LABELS.indexOf(v) >= 0 ? v.toFixed(1) : ''
      },
      splitLine: {show: true, lineStyle: {color: '#d0d0d0', width: 1}}
    }
  ],
  legend: {
    data: [SERIES_NAME],
    left: 1192, top: 374,
    padding: [5, 10, 5, 9],
    backgroundColor: '#ffffff',
    borderColor: '#a0a0a0', borderWidth: 1, borderRadius: 0,
    icon: 'rect', itemWidth: 27, itemHeight: 1, itemGap: 6,
    textStyle: {fontFamily: LABEL_FONT, fontSize: 11, color: '#333'},
    selectedMode: false
  },
  graphic: [{
    type: 'text',
    x: 41, y: 377,
    rotation: Math.PI / 2,
    z: 100,
    style: {
      text: 'Teplota [°{i|C}]',
      font: '28px "Liberation Serif", "Times New Roman", serif',
      fill: '#000',
      textAlign: 'center',
      textVerticalAlign: 'middle',
      rich: {i: {fontStyle: 'italic', fontSize: 28, fontFamily: '"Liberation Serif", serif', fill: '#000'}}
    }
  }],
  series: series
});
</script>
</body>
</html>
